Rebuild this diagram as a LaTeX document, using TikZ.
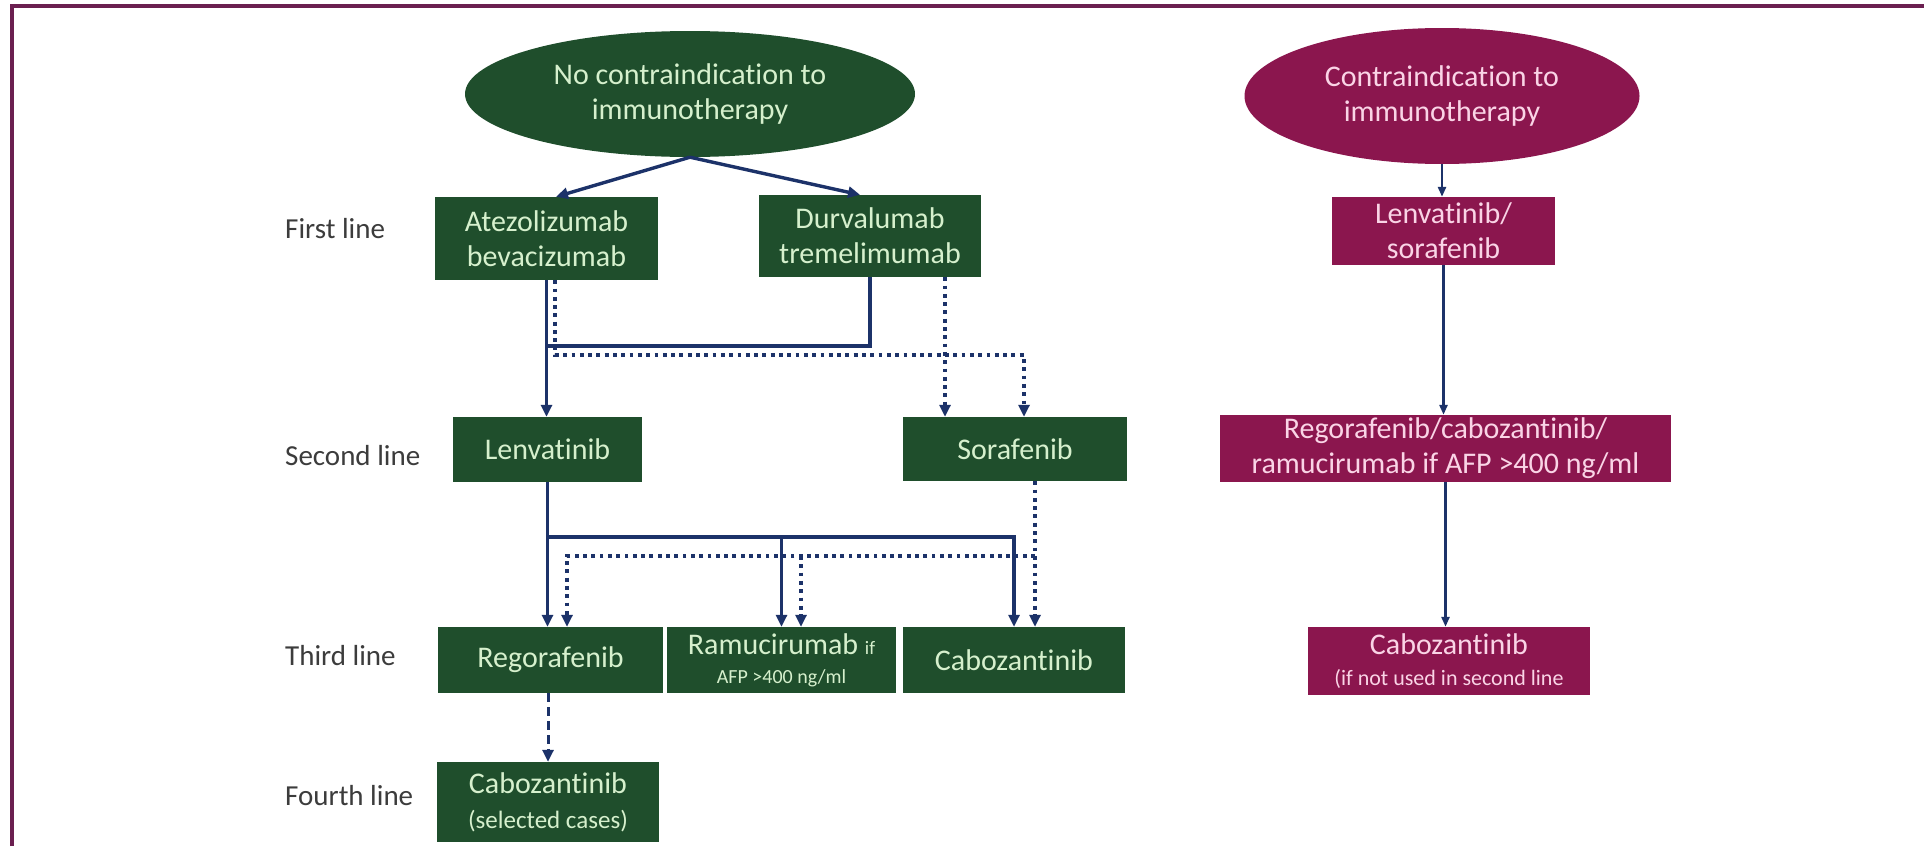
\documentclass[tikz,border=0pt]{standalone}
\usepackage{fontspec}
\setmainfont{Carlito}[Ligatures=NoCommon]
\usetikzlibrary{arrows.meta,shapes.geometric}
\definecolor{gfill}{RGB}{31,78,44}
\definecolor{gtext}{RGB}{214,240,205}
\definecolor{pfill}{RGB}{139,22,78}
\definecolor{ptext}{RGB}{250,212,230}
\definecolor{navy}{RGB}{28,50,105}
\definecolor{lblc}{RGB}{60,60,60}
\definecolor{framec}{RGB}{107,31,80}
\tikzset{
  gbox/.style={rectangle, fill=gfill, text=gtext, inner sep=0pt, align=center, font=\fontsize{30}{35}\selectfont},
  pbox/.style={rectangle, fill=pfill, text=ptext, inner sep=0pt, align=center, font=\fontsize{30}{35}\selectfont},
  lbl/.style={anchor=west, text=lblc, inner sep=0pt, font=\fontsize{29}{34}\selectfont},
  sol/.style={draw=navy, line width=3.4pt},
  dott/.style={draw=navy, line width=3.8pt, dash pattern=on 3.8pt off 4.5pt},
  dsh/.style={draw=navy, line width=3pt, dash pattern=on 9pt off 5pt},
  thn/.style={draw=navy, line width=2.5pt},
  tip/.style={-{Triangle[length=12pt,width=11pt]}},
  stip/.style={-{Triangle[length=10pt,width=8pt]}},
}
\begin{document}
\begin{tikzpicture}[x=1pt,y=-1pt]
\useasboundingbox (0,0) rectangle (1924,846);
\fill[white] (0,0) rectangle (1924,846);
\draw[framec, line width=4.5pt] (12,846) -- (12,6) -- (1924,6);

% ellipses
\node[ellipse, fill=gfill, text=gtext, inner sep=0pt, minimum width=450pt, minimum height=126pt, align=center, font=\fontsize{30}{35}\selectfont] (ell1) at (690,94) {No contraindication to\\immunotherapy};
\node[ellipse, fill=pfill, text=ptext, inner sep=0pt, minimum width=395pt, minimum height=136pt, align=center, font=\fontsize{30}{35}\selectfont] (ell2) at (1442,96) {Contraindication to\\immunotherapy};

% labels
\node[lbl] (l1) at (285,229) {First line};
\node[lbl] (l2) at (285,456) {Second line};
\node[lbl] (l3) at (285,656) {Third line};
\node[lbl] (l4) at (285,796) {Fourth line};

% green boxes
\node[gbox, minimum width=223pt, minimum height=83pt] (atez) at (546.5,238.5) {Atezolizumab\\bevacizumab};
\node[gbox, minimum width=222pt, minimum height=82pt] (durv) at (870,236) {Durvalumab\\tremelimumab};
\node[gbox, minimum width=189pt, minimum height=65pt] (lenv) at (547.5,449.5) {Lenvatinib};
\node[gbox, minimum width=224pt, minimum height=64pt] (sora) at (1015,449) {Sorafenib};
\node[gbox, minimum width=225pt, minimum height=66pt] (rego) at (550.5,660) {Regorafenib};
\node[gbox, minimum width=229pt, minimum height=66pt] (ramu) at (781.5,660) {Ramucirumab {\fontsize{19}{22}\selectfont if}\\[-6pt]{\fontsize{20}{23}\selectfont AFP >400 ng/ml}};
\node[gbox, minimum width=222pt, minimum height=66pt] (cabo) at (1014,660) {Cabozantinib};
\node[gbox, minimum width=222pt, minimum height=80pt] (cabo4) at (548,802) {Cabozantinib\\{\fontsize{25}{30}\selectfont (selected cases)}};

% purple boxes
\node[pbox, minimum width=223pt, minimum height=68pt] (lensor) at (1443.5,231) {Lenvatinib/\\sorafenib};
\node[pbox, minimum width=451pt, minimum height=67pt] (regcab) at (1445.5,448.5) {Regorafenib/cabozantinib/\\ramucirumab if AFP >400 ng/ml};
\node[pbox, minimum width=282pt, minimum height=68pt] (cabo3) at (1449,661) {Cabozantinib\\[-4pt]{\fontsize{22}{26}\selectfont (if not used in second line}};

% first-line arrows
\draw[sol,tip] (ell1.south) -- ([xshift=9.5pt]atez.north);
\draw[sol,tip] (ell1.south) -- ([xshift=-10pt]durv.north);

% first -> second
\coordinate (j1) at (546.5,346);
\draw[sol,tip] (atez.south) -- (atez.south |- lenv.north);
\draw[sol] (durv.south) |- (j1);
\coordinate (d1) at (1024,355);
\draw[dott,tip] ([xshift=8.5pt]atez.south) |- (d1) -- ([xshift=9pt]sora.north);
\draw[dott,tip] ([xshift=75pt]durv.south) -- ([xshift=-70pt]sora.north);

% second -> third
\coordinate (h1) at (547.5,537);
\draw[sol,tip] (lenv.south) -- (lenv.south |- rego.north);
\draw[sol,tip] (h1) -| (cabo.north);
\draw[sol,tip] (h1 -| ramu.north) -- (ramu.north);
\coordinate (sd) at ([xshift=20pt]sora.south);
\coordinate (h2) at (567,556);
\coordinate (h3) at (801,556);
\draw[dott,tip] (sd) -- (sd |- cabo.north);
\draw[dott,tip] (sd |- h2) -- (h2) -- (h2 |- rego.north);
\draw[dott,tip] (h3) -- (h3 |- ramu.north);

% third -> fourth
\draw[dsh,tip] (rego.south -| cabo4.north) -- (cabo4.north);

% right column
\draw[thn,stip] (ell2.south) -- (ell2.south |- lensor.north);
\draw[thn,stip] (lensor.south) -- (lensor.south |- regcab.north);
\draw[thn,stip] (regcab.south) -- (regcab.south |- cabo3.north);
\end{tikzpicture}
\end{document}
